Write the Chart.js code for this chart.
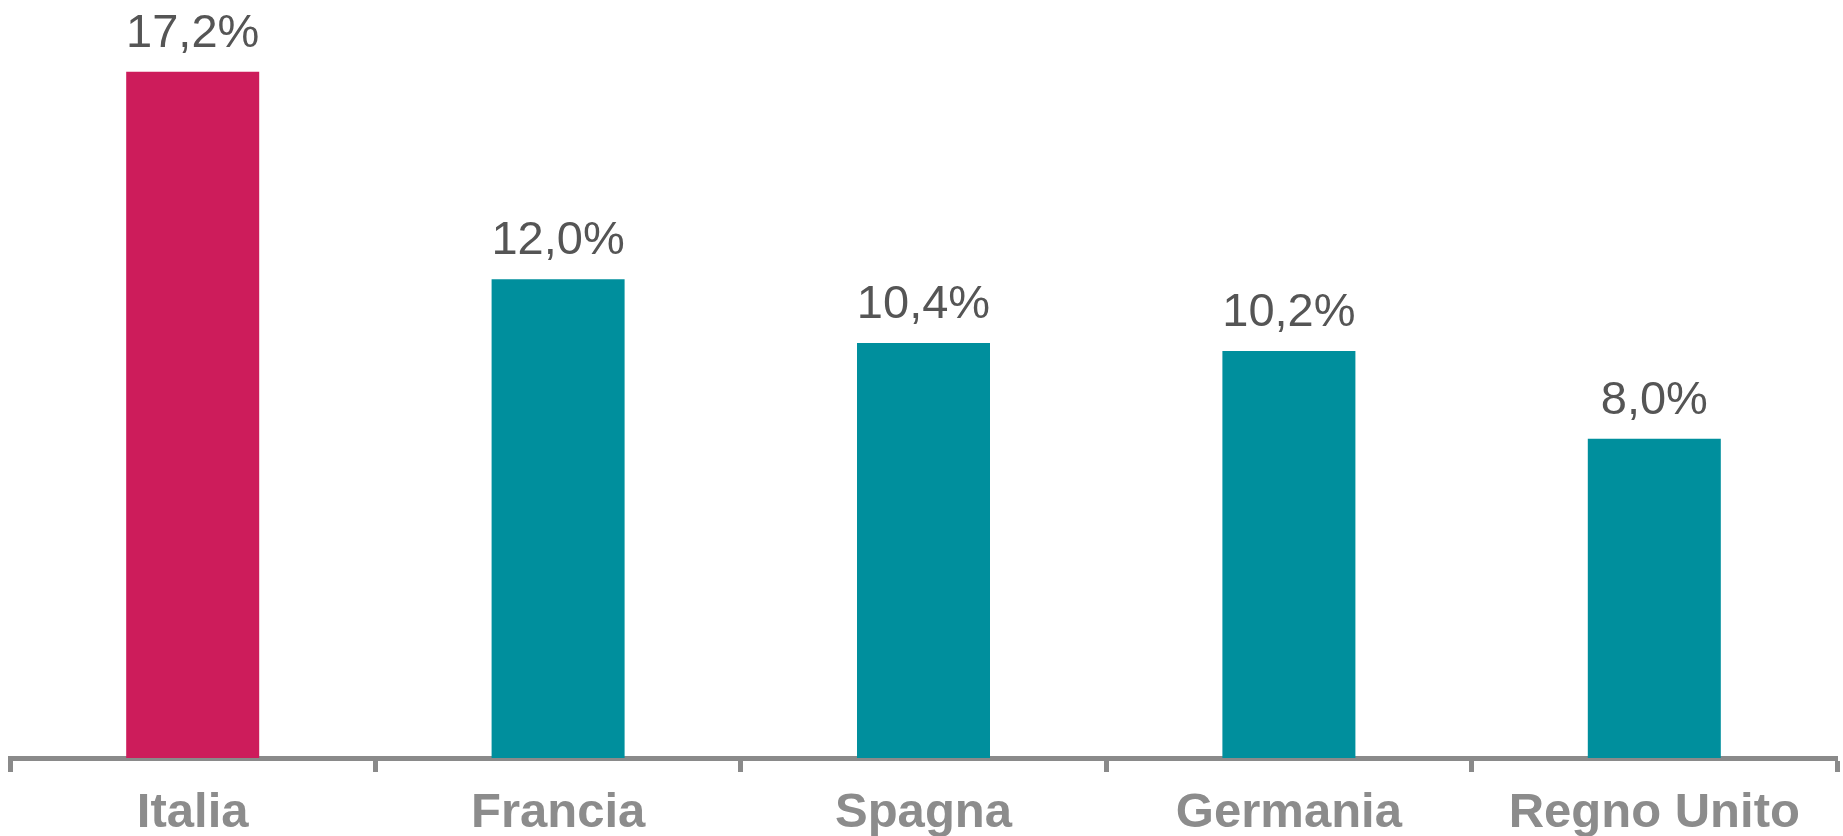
<!DOCTYPE html>
<html>
<head>
<meta charset="utf-8">
<script src="https://cdn.jsdelivr.net/npm/chart.js@4"></script>
<style>
  html, body { margin: 0; padding: 0; background: #ffffff; }
  #wrap { width: 1843px; height: 836px; position: relative; }
</style>
</head>
<body>
<div id="wrap"><canvas id="shareChart"></canvas></div>
<script>
const countries = ['Italia', 'Francia', 'Spagna', 'Germania', 'Regno Unito'];
const shares = [17.2, 12.0, 10.4, 10.2, 8.0];
const barColors = ['#cd1c5b', '#008f9d', '#008f9d', '#008f9d', '#008f9d'];

const axisGrey = '#8a8a8a';
const labelGrey = '#8c8c8c';
const valueGrey = '#555555';

// writes "17,2%" above each bar, using the bar positions from the chart
const valueLabels = {
  id: 'valueLabels',
  afterDatasetsDraw(chart) {
    const ctx = chart.ctx;
    const meta = chart.getDatasetMeta(0);
    ctx.save();
    ctx.font = '47px "Liberation Sans", Arial, sans-serif';
    ctx.fillStyle = valueGrey;
    ctx.textAlign = 'center';
    ctx.textBaseline = 'alphabetic';
    meta.data.forEach((bar, i) => {
      const txt = shares[i].toFixed(1).replace('.', ',') + '%';
      ctx.fillText(txt, bar.x, bar.y - 25);
    });
    ctx.restore();
  }
};

const el = document.getElementById('shareChart');
new Chart(el, {
  type: 'bar',
  data: {
    labels: countries,
    datasets: [{
      data: shares,
      backgroundColor: barColors,
      barPercentage: 0.728,
      categoryPercentage: 0.5
    }]
  },
  options: {
    responsive: true,
    maintainAspectRatio: false,
    animation: false,
    layout: { padding: { left: 10, right: 6, top: 0, bottom: 0 } },
    plugins: { legend: { display: false }, tooltip: { enabled: false } },
    scales: {
      x: {
        afterFit(scale) { scale.height = 78; },
        grid: {
          drawOnChartArea: false,
          drawTicks: true,
          tickLength: 14,
          tickWidth: 5,
          tickColor: axisGrey,
          offset: true
        },
        border: { display: true, color: axisGrey, width: 5 },
        ticks: {
          color: labelGrey,
          padding: 12,
          font: { family: '"Liberation Sans", Arial, sans-serif', size: 49, weight: 'bold' }
        }
      },
      y: {
        display: false,
        min: 0,
        max: 19
      }
    }
  },
  plugins: [valueLabels]
});
</script>
</body>
</html>
